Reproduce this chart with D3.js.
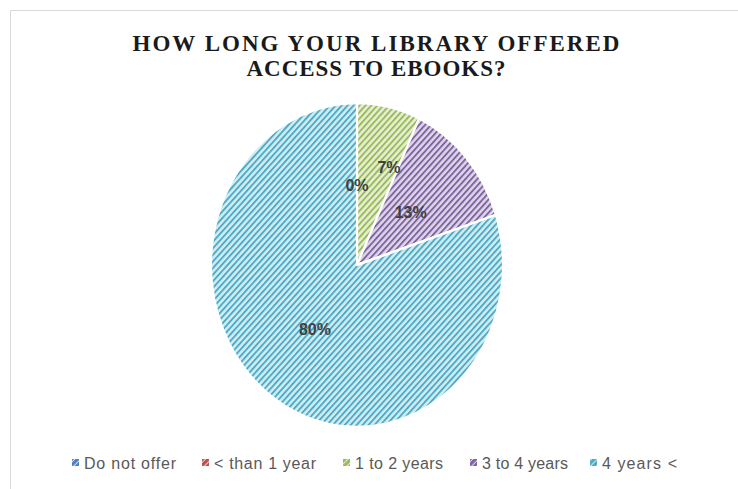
<!DOCTYPE html>
<html>
<head>
<meta charset="utf-8">
<script src="https://cdn.jsdelivr.net/npm/d3@7"></script>
<style>
  html, body { margin: 0; padding: 0; background: #fff; }
  svg { display: block; }
</style>
</head>
<body>
<svg id="chart" width="738" height="489"></svg>
<script>
// Survey answers and their share of libraries (%)
const categories = ["Do not offer", "< than 1 year", "1 to 2 years", "3 to 4 years", "4 years <"];
const shares = [0, 0, 7, 13, 80];
const colors = ["#4f81bd", "#c0504d", "#9bbb59", "#8064a2", "#4bacc6"];
const tints = ["#d2def0", "#f0d2d1", "#e6efd6", "#ddd5e8", "#d3ecf3"];
const titleLines = ["HOW LONG YOUR LIBRARY OFFERED", "ACCESS TO EBOOKS?"];

const W = 738, H = 489;
const svg = d3.select("#chart");
const defs = svg.append("defs");

// Chart area frame (top and left edges show)
svg.append("path")
  .attr("d", `M10.5,${H} V10.5 H${W}`)
  .attr("fill", "none")
  .attr("stroke", "#d9d9d9")
  .attr("stroke-width", 1);

// Upward diagonal hatch per category; a denser one for the legend keys
function hatch(id, i, stripe) {
  const p = defs.append("pattern")
    .attr("id", id)
    .attr("patternUnits", "userSpaceOnUse")
    .attr("width", 4.2)
    .attr("height", 4.2)
    .attr("patternTransform", "rotate(45)");
  p.append("rect").attr("width", 4.2).attr("height", 4.2).attr("fill", tints[i]);
  p.append("rect").attr("width", stripe).attr("height", 4.2).attr("fill", colors[i]);
}
categories.forEach((c, i) => {
  hatch("hatch" + i, i, 1.8);
  hatch("key" + i, i, 3.2);
});

// Title
const title = svg.append("g").attr("class", "title");
const titleTargets = [487, 259];
titleLines.forEach((t, i) => {
  const txt = title.append("text")
    .attr("x", 376)
    .attr("y", 51 + i * 25)
    .attr("text-anchor", "middle")
    .attr("font-family", "Liberation Serif, serif")
    .attr("font-weight", "bold")
    .attr("font-size", 23)
    .attr("fill", "#1a1a1a")
    .text(t);
  const natural = txt.node().getComputedTextLength();
  const ls = (titleTargets[i] - natural) / (t.length - 1);
  txt.attr("letter-spacing", ls);
  // letter-spacing adds trailing space after the last glyph; shift to recentre
  txt.attr("x", 376 + ls / 2);
});

// Pie
const cx = 357, cy = 265, R = 146, stretchY = 162 / 146;
const pie = d3.pie().sort(null).value(d => d)
  .startAngle(0).endAngle(2 * Math.PI);
const arcs = pie(shares);
const arc = d3.arc().innerRadius(0).outerRadius(R);

const g = svg.append("g")
  .attr("transform", `translate(${cx},${cy}) scale(1,${stretchY})`);

g.selectAll("path.slice")
  .data(arcs)
  .join("path")
  .attr("class", "slice")
  .attr("d", arc)
  .attr("fill", (d, i) => `url(#hatch${i})`)
  .attr("stroke", "#fff")
  .attr("stroke-width", 2.2)
  .attr("stroke-linejoin", "round");

// Data labels
// small nudges (radius factor, angle shift) where a label would crowd a neighbour
const labelNudge = [null, null, { r: 0.64, a: 0.13 }, null, null];
const labels = svg.append("g");
arcs.forEach((d, i) => {
  if (i === 1) return; // shares the same spot as the first zero slice
  let mid = (d.startAngle + d.endAngle) / 2;
  let r = R * 0.49;
  if (labelNudge[i]) { r = R * labelNudge[i].r; mid += labelNudge[i].a; }
  const x = cx + Math.sin(mid) * r;
  const y = cy - Math.cos(mid) * r * stretchY;
  labels.append("text")
    .attr("x", x)
    .attr("y", y)
    .attr("dy", "0.36em")
    .attr("text-anchor", "middle")
    .attr("font-family", "Liberation Sans, Arial, sans-serif")
    .attr("font-weight", "bold")
    .attr("font-size", 16)
    .attr("fill", "#404040")
    .text(d3.format(".0%")(d.data / 100));
});

// Legend
const legendX = [72, 202, 343, 470, 590];
const legendW = [92, 102, 88, 86, 75];
const legend = svg.append("g");
categories.forEach((c, i) => {
  legend.append("rect")
    .attr("x", legendX[i])
    .attr("y", 459)
    .attr("width", 7)
    .attr("height", 7)
    .attr("fill", `url(#key${i})`);
  const t = legend.append("text")
    .attr("x", legendX[i] + 12)
    .attr("y", 463)
    .attr("dy", "0.35em")
    .attr("font-family", "Liberation Sans, Arial, sans-serif")
    .attr("font-size", 16)
    .attr("fill", "#595959")
    .text(c);
  const nat = t.node().getComputedTextLength();
  t.attr("letter-spacing", (legendW[i] - nat) / (c.length - 1));
});
</script>
</body>
</html>
